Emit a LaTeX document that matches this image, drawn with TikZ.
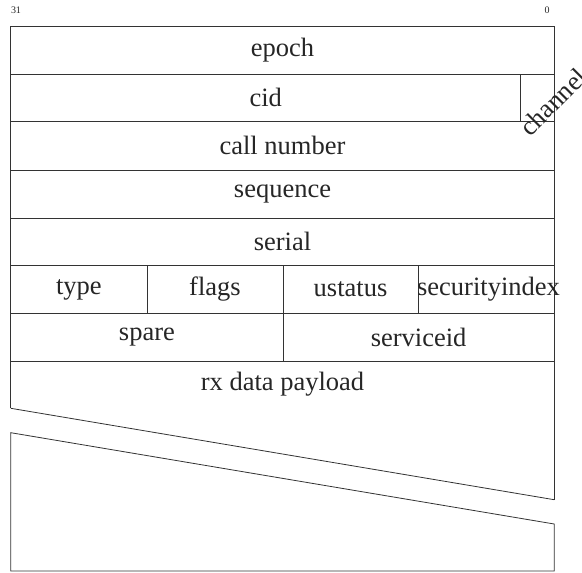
\documentclass[tikz,border=0pt]{standalone}
\usepackage{fontspec}
\setmainfont{Liberation Serif}
\begin{document}
\begin{tikzpicture}[x=1pt,y=-1pt,
  field/.style={inner sep=0pt, outer sep=0pt, anchor=center, font=\fontsize{26.5}{30}\selectfont, text=black!85},
  bitnum/.style={inner sep=0pt, anchor=base, font=\fontsize{10}{12}\selectfont, text=black!85},
  rule/.style={line width=0.8pt, draw=black!80}]
\useasboundingbox (0,0) rectangle (582,573);
\def\L{10.8}
\def\R{554.2}
% bit numbers
\node[bitnum] (b31) at (16,13.5) {31};
\node[bitnum] (b0) at (547,13.5) {0};
% outer frame, upper part
\draw[rule] (\L,408.3) -- (\L,26) -- (\R,26) -- (\R,499.7);
\draw[rule] (\L,408.3) -- (\R,499.7);
% row separators
\foreach \y in {74,121.8,170,218,265.7,313.2,360.9}
  \draw[rule] (\L,\y) -- (\R,\y);
% vertical dividers
\draw[rule] (520.7,74) -- (520.7,121.8);
\draw[rule] (147,265.7) -- (147,313.2);
\draw[rule] (283,265.7) -- (283,360.9);
\draw[rule] (418,265.7) -- (418,313.2);
% lower part
\draw[rule] (\L,432.7) -- (\R,524) -- (\R,571) -- (\L,571) -- cycle;
% labels
\node[field] (epoch) at (282.5,50) {epoch};
\node[field] (cid) at (265.7,97.9) {cid};
\node[field, rotate=45] (channel) at (553,102) {channel};
\node[field] (callnum) at (282.5,145.9) {call number};
\node[field] (seq) at (282.5,194) {sequence};
\node[field] (serial) at (282.5,241.9) {serial};
\node[field] (type) at (78.9,289.5) {type};
\node[field] (flags) at (215,289.5) {flags};
\node[field] (ustatus) at (350.5,289.5) {ustatus};
\node[field] (secidx) at (488.5,289.5) {securityindex};
\node[field] (spare) at (146.9,337.1) {spare};
\node[field] (serviceid) at (418.6,337.1) {serviceid};
\node[field] (payload) at (282.5,384.6) {rx data payload};
\end{tikzpicture}
\end{document}
